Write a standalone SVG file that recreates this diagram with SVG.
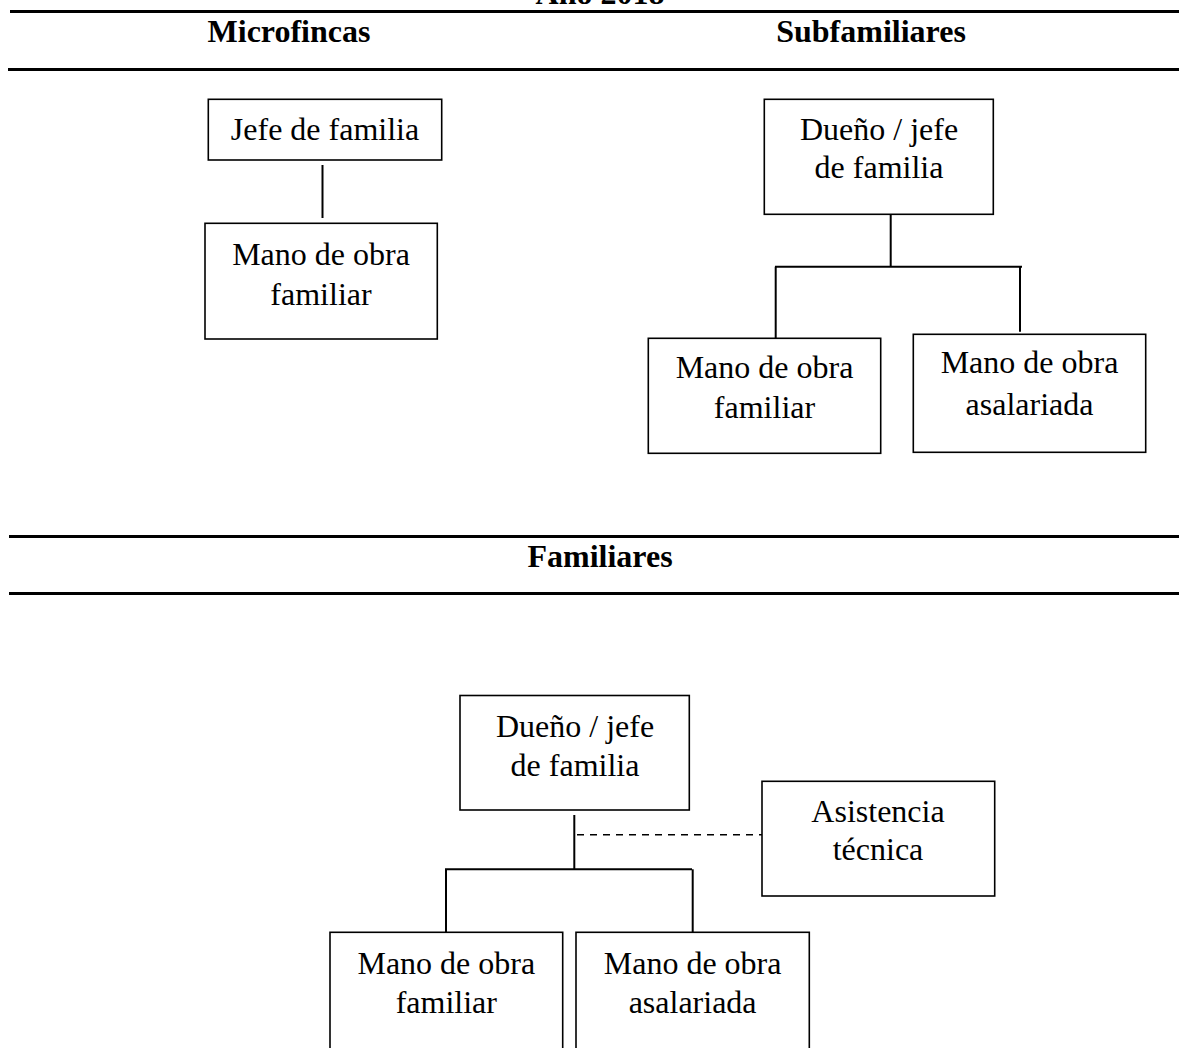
<svg xmlns="http://www.w3.org/2000/svg" width="1179" height="1048" viewBox="0 0 1179 1048">
<style>
  text { font-family: "Liberation Serif", "Times New Roman", serif; font-size: 32px; fill: #000; text-anchor: middle; }
  .h { font-weight: bold; }
  .box { fill: #fff; stroke: #000; stroke-width: 1.6; }
  .rule { stroke: #000; stroke-width: 3; }
  .ln { stroke: #000; stroke-width: 2; fill: none; }
  .dash { stroke: #000; stroke-width: 1.6; stroke-dasharray: 7 6; fill: none; }
</style>
<rect width="1179" height="1048" fill="#fff"/>

<g id="headers">
  <text class="h" x="600" y="3.5">Año 2018</text>
  <line class="rule" x1="10" y1="11.5" x2="1179" y2="11.5"/>
  <text class="h" x="289" y="42">Microfincas</text>
  <text class="h" x="871" y="42">Subfamiliares</text>
  <line class="rule" x1="8" y1="69.5" x2="1179" y2="69.5"/>
  <line class="rule" x1="9" y1="536.5" x2="1179" y2="536.5"/>
  <text class="h" x="600" y="567">Familiares</text>
  <line class="rule" x1="9" y1="593.5" x2="1179" y2="593.5"/>
</g>

<g id="connectors">
  <!-- Microfincas -->
  <line class="ln" x1="322.5" y1="165" x2="322.5" y2="218"/>
  <!-- Subfamiliares -->
  <line class="ln" x1="890.7" y1="214" x2="890.7" y2="266.7"/>
  <line class="ln" x1="775" y1="266.7" x2="1022" y2="266.7"/>
  <line class="ln" x1="775.7" y1="266.7" x2="775.7" y2="338"/>
  <line class="ln" x1="1020" y1="266.7" x2="1020" y2="331.7"/>
  <!-- Familiares -->
  <line class="ln" x1="574.3" y1="815" x2="574.3" y2="869.3"/>
  <line class="dash" x1="577" y1="834.8" x2="762" y2="834.8"/>
  <line class="ln" x1="445" y1="869.3" x2="692" y2="869.3"/>
  <line class="ln" x1="446" y1="869.3" x2="446" y2="932.3"/>
  <line class="ln" x1="692.7" y1="869.3" x2="692.7" y2="934.3"/>
</g>

<g id="micro-jefe">
  <rect class="box" x="208.3" y="99.3" width="233.4" height="60.7"/>
  <text x="325" y="140">Jefe de familia</text>
</g>
<g id="micro-familiar">
  <rect class="box" x="205" y="223.3" width="232.3" height="115.7"/>
  <text x="321" y="265">Mano de obra</text>
  <text x="321" y="305">familiar</text>
</g>

<g id="sub-duenio">
  <rect class="box" x="764.3" y="99.3" width="229" height="115"/>
  <text x="879" y="140">Dueño / jefe</text>
  <text x="879" y="178.3">de familia</text>
</g>
<g id="sub-familiar">
  <rect class="box" x="648.3" y="338.3" width="232.4" height="115"/>
  <text x="764.5" y="378.3">Mano de obra</text>
  <text x="764.5" y="418.3">familiar</text>
</g>
<g id="sub-asalariada">
  <rect class="box" x="913.3" y="334.3" width="232.4" height="118"/>
  <text x="1029.5" y="373.3">Mano de obra</text>
  <text x="1029.5" y="415">asalariada</text>
</g>

<g id="fam-duenio">
  <rect class="box" x="460" y="695.5" width="229.3" height="114.5"/>
  <text x="575" y="736.7">Dueño / jefe</text>
  <text x="575" y="776">de familia</text>
</g>
<g id="fam-asistencia">
  <rect class="box" x="762" y="781.3" width="232.7" height="114.7"/>
  <text x="878" y="821.7">Asistencia</text>
  <text x="878" y="860">técnica</text>
</g>
<g id="fam-familiar">
  <rect class="box" x="330" y="932.3" width="232.7" height="130"/>
  <text x="446.3" y="974">Mano de obra</text>
  <text x="446.3" y="1013.3">familiar</text>
</g>
<g id="fam-asalariada">
  <rect class="box" x="576" y="932.3" width="233.3" height="130"/>
  <text x="692.6" y="974">Mano de obra</text>
  <text x="692.6" y="1013.3">asalariada</text>
</g>
</svg>
